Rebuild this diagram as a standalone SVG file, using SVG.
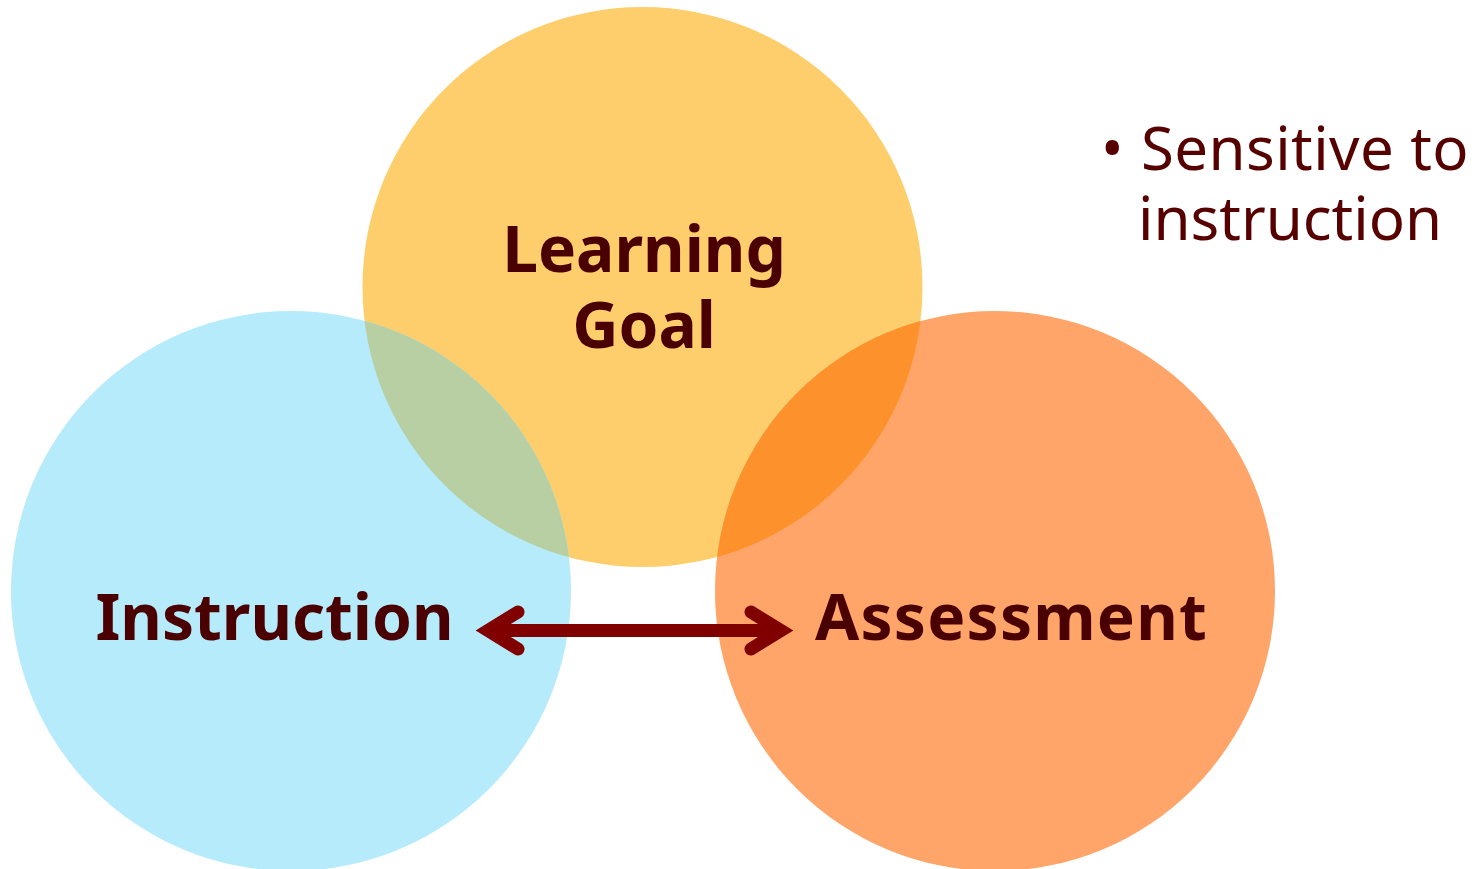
<svg xmlns="http://www.w3.org/2000/svg" width="1482" height="869" viewBox="0 0 1482 869">
  <style>
    .label { font-family: "Noto Sans", "Open Sans", "DejaVu Sans", sans-serif; font-weight: bold; font-size: 64px; fill: #4a0000; text-anchor: middle; }
    .note { font-family: "Noto Sans", "Open Sans", "DejaVu Sans", sans-serif; font-size: 60px; fill: #560000; }
    .arrow { fill: none; stroke: #800000; stroke-width: 13; }
  </style>
  <defs>
    <clipPath id="clipGoal"><circle cx="642.5" cy="287" r="280"/></clipPath>
  </defs>
  <rect width="1482" height="869" fill="#ffffff"/>

  <g id="goal">
    <circle cx="642.5" cy="287" r="280" fill="#fdce6b"/>
  </g>
  <g id="instruction">
    <circle cx="291" cy="591" r="280" fill="#b6ebfc"/>
    <circle cx="291" cy="591" r="280" fill="#b7cfa3" clip-path="url(#clipGoal)"/>
    <text class="label" x="274.5" y="640">Instruction</text>
  </g>
  <g id="assessment">
    <circle cx="995" cy="591" r="280" fill="#ffa56a"/>
    <circle cx="995" cy="591" r="280" fill="#fd922c" clip-path="url(#clipGoal)"/>
    <text class="label" x="1011.5" y="640" letter-spacing="1.2">Assessment</text>
  </g>
  <g id="goal-label">
    <text class="label" x="644" y="272">Learning</text>
    <text class="label" x="644" y="348">Goal</text>
  </g>

  <g id="connectors">
    <path class="arrow" d="M489,630.5 H780"/>
    <path class="arrow" d="M518,612 L488,630.5 L518,649" stroke-linecap="round" stroke-linejoin="miter"/>
    <path class="arrow" d="M751,612 L781,630.5 L751,649" stroke-linecap="round" stroke-linejoin="miter"/>
  </g>

  <g id="note">
    <text class="note" x="1101" y="170">•</text>
    <text class="note" x="1141" y="170" letter-spacing="0.4">Sensitive to</text>
    <text class="note" x="1138" y="240">instruction</text>
  </g>
</svg>
